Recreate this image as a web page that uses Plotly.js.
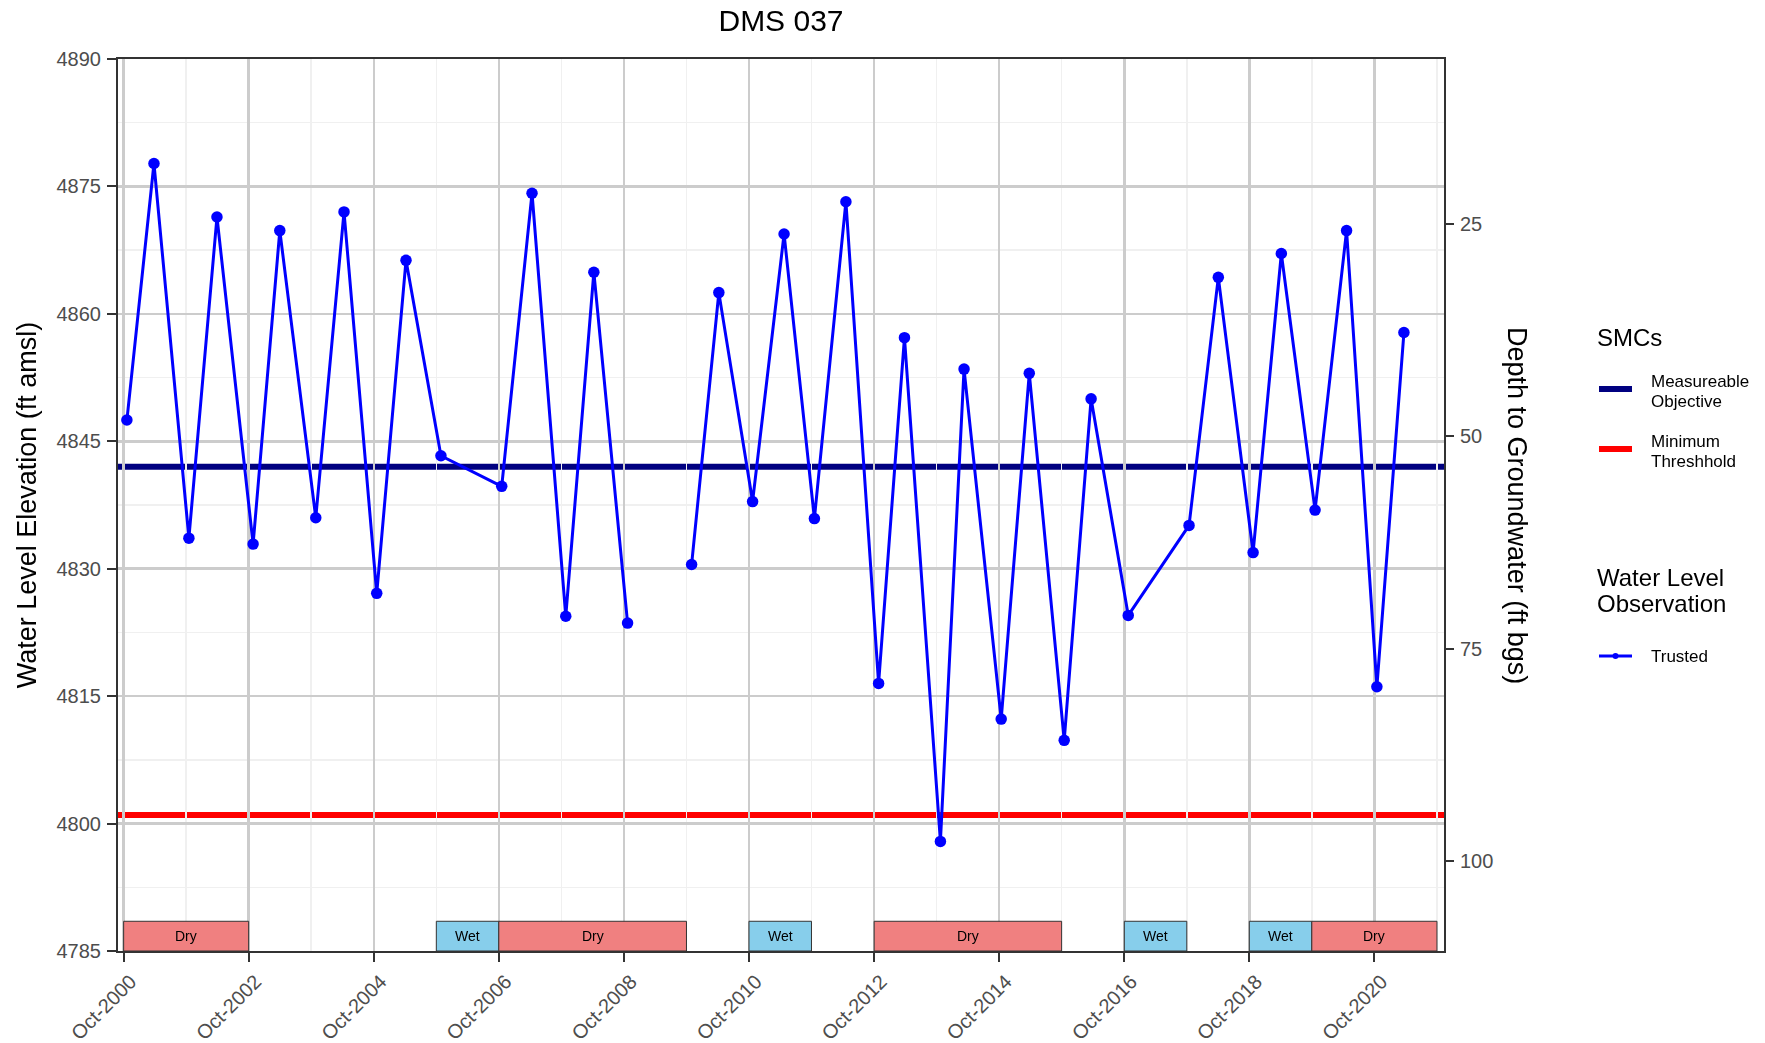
<!DOCTYPE html>
<html>
<head>
<meta charset="utf-8">
<script src="https://cdn.plot.ly/plotly-3.0.1.min.js"></script>
<style>
  html, body { margin: 0; padding: 0; background: #ffffff; }
  #chart { width: 1765px; height: 1043px; }
</style>
</head>
<body>
<div id="chart"></div>
<script>
// ---- Data ----
const obsDates = [
  '2000-10-20','2001-03-27','2001-10-17','2002-03-30','2002-10-27','2003-04-01',
  '2003-10-28','2004-04-10','2004-10-18','2005-04-07','2005-10-28','2006-10-18',
  '2007-04-13','2007-10-27','2008-04-08','2008-10-22','2009-04-01','2009-10-31',
  '2010-04-08','2010-10-22','2011-04-24','2011-10-18','2012-04-19','2012-10-27',
  '2013-03-27','2013-10-23','2014-03-10','2014-10-13','2015-03-26','2015-10-16',
  '2016-03-21','2016-10-24','2017-10-14','2018-04-03','2018-10-23','2019-04-06',
  '2019-10-20','2020-04-21','2020-10-15','2021-03-22'
];
const obsElev = [
  4847.5, 4877.7, 4833.6, 4871.4, 4832.9, 4869.8,
  4836.0, 4872.0, 4827.1, 4866.3, 4843.3, 4839.7,
  4874.2, 4824.4, 4864.9, 4823.6, null,   4830.5,
  4862.5, 4837.9, 4869.4, 4835.9, 4873.2, 4816.5,
  4857.2, 4797.9, 4853.5, 4812.3, 4853.0, 4809.8,
  4850.0, 4824.5, 4835.1, 4864.3, 4831.9, 4867.1,
  4836.9, 4869.8, 4816.1, 4857.8
];

const seasonStart = ['2000-10-01','2005-10-01','2006-10-01','2010-10-01','2012-10-01','2016-10-01','2018-10-01','2019-10-01'];
const seasonEnd   = ['2002-10-01','2006-10-01','2009-10-01','2011-10-01','2015-10-01','2017-10-01','2019-10-01','2021-10-01'];
const seasonType  = ['Dry','Wet','Dry','Wet','Dry','Wet','Wet','Dry'];

const measurableObjective = 4842;
const minimumThreshold = 4801;
const groundSurface = 4895.6;
const depthTicks = [25, 50, 75, 100];

// ---- Styles ----
const FONT = 'Liberation Sans, Arial, Helvetica, sans-serif';
const seasonColor = { Dry: '#F08080', Wet: '#87CEEB' };
const yMin = 4785, yMax = 4890;

// plot area in pixels (for paper-coordinate legend placement)
const M = { l: 118, r: 321, t: 59, b: 92 };
const W = 1765, H = 1043;
const PW = W - M.l - M.r, PH = H - M.t - M.b;
const px = x => (x - M.l) / PW;
const py = y => (H - M.b - y) / PH;

const obsDepth = obsElev.map(v => v === null ? null : groundSurface - v);

const traces = [
  {
    // carries the depth (right) axis; drawn invisibly on top of the elevation trace
    x: obsDates, y: obsDepth, yaxis: 'y2', type: 'scatter', mode: 'markers',
    marker: { size: 1, color: 'rgba(0,0,0,0)' }, opacity: 0,
    showlegend: false, hoverinfo: 'skip'
  },
  {
    x: obsDates, y: obsElev, type: 'scatter', mode: 'lines+markers',
    name: 'Trusted', connectgaps: false,
    line: { color: '#0000FF', width: 3 },
    marker: { color: '#0000FF', size: 11.5 },
    showlegend: false, hoverinfo: 'x+y'
  }
];

const shapes = [
  { type: 'line', xref: 'paper', yref: 'y', x0: 0, x1: 1, y0: measurableObjective, y1: measurableObjective,
    line: { color: '#000080', width: 6 }, layer: 'between' },
  { type: 'line', xref: 'paper', yref: 'y', x0: 0, x1: 1, y0: minimumThreshold, y1: minimumThreshold,
    line: { color: '#FF0000', width: 6 }, layer: 'between' }
];

const annotations = [];

seasonType.forEach((t, i) => {
  shapes.push({
    type: 'rect', xref: 'x', yref: 'y',
    x0: seasonStart[i], x1: seasonEnd[i], y0: yMin, y1: 4788.5,
    fillcolor: seasonColor[t], line: { color: '#333333', width: 1 }, layer: 'above'
  });
  const mid = new Date((Date.parse(seasonStart[i]) + Date.parse(seasonEnd[i])) / 2).toISOString().slice(0, 10);
  annotations.push({
    xref: 'x', yref: 'y', x: mid, y: (yMin + 4788.5) / 2, text: t, showarrow: false,
    font: { family: FONT, size: 14, color: '#000000' }, xanchor: 'center', yanchor: 'middle'
  });
});

// right axis title (reads top to bottom)
annotations.push({
  xref: 'paper', yref: 'paper', x: px(1517), y: 0.5, text: 'Depth to Groundwater (ft bgs)',
  textangle: 90, showarrow: false, xanchor: 'center', yanchor: 'middle',
  font: { family: FONT, size: 27, color: '#000000' }
});

// ---- Legend (drawn) ----
function legendText(text, x, y, size) {
  annotations.push({
    xref: 'paper', yref: 'paper', x: px(x), y: py(y), text: text, showarrow: false,
    xanchor: 'left', yanchor: 'middle', font: { family: FONT, size: size, color: '#000000' }
  });
}
function legendLine(color, y, width) {
  shapes.push({ type: 'line', xref: 'paper', yref: 'paper', x0: px(1599), x1: px(1632), y0: py(y), y1: py(y),
    line: { color: color, width: width } });
}
legendText('SMCs', 1595, 337, 24);
legendLine('#000080', 389, 6);
legendText('Measureable', 1649, 381, 17);
legendText('Objective', 1649, 401, 17);
legendLine('#FF0000', 449, 6);
legendText('Minimum', 1649, 442, 17);
legendText('Threshhold', 1649, 461, 17);
legendText('Water Level', 1595, 577, 24);
legendText('Observation', 1595, 603, 24);
legendLine('#0000FF', 656, 3);
shapes.push({ type: 'circle', xref: 'paper', yref: 'paper', xsizemode: 'pixel', ysizemode: 'pixel',
  xanchor: px(1615.5), yanchor: py(656), x0: -3, x1: 3, y0: -3, y1: 3,
  fillcolor: '#0000FF', line: { color: '#0000FF', width: 0 } });
legendText('Trusted', 1649, 656, 17);

const tickFont = { family: FONT, size: 20, color: '#4D4D4D' };

const layout = {
  width: W, height: H,
  margin: { l: M.l, r: M.r, t: M.t, b: M.b, pad: 0 },
  paper_bgcolor: '#FFFFFF', plot_bgcolor: '#FFFFFF',
  font: { family: FONT },
  showlegend: false,
  title: { text: 'DMS 037', x: 0.5, xref: 'paper', xanchor: 'center', y: 1 - 20 / H, yref: 'container', yanchor: 'middle',
    font: { family: FONT, size: 30, color: '#000000' } },
  xaxis: {
    type: 'date', range: ['2000-08-29', '2021-11-11'],
    tick0: '2000-10-01', dtick: 'M24', tickformat: '%b-%Y', tickangle: -45,
    ticks: 'outside', ticklen: 9, tickwidth: 2, tickcolor: '#333333',
    tickfont: tickFont, ticklabelshift: 7,
    showline: true, linecolor: '#333333', linewidth: 2, mirror: true,
    showgrid: true, gridcolor: '#CCCCCC', gridwidth: 2.5,
    minor: { tick0: '2000-10-01', dtick: 'M12', showgrid: true, gridcolor: '#F0F0F0', gridwidth: 1.5, ticks: '' },
    zeroline: false, automargin: false
  },
  yaxis: {
    range: [yMin, yMax], tick0: yMin, dtick: 15,
    ticks: 'outside', ticklen: 9, tickwidth: 2, tickcolor: '#333333',
    tickfont: tickFont, ticklabelstandoff: 2,
    showline: true, linecolor: '#333333', linewidth: 2, mirror: true,
    showgrid: true, gridcolor: '#CCCCCC', gridwidth: 2.5,
    minor: { tick0: yMin, dtick: 7.5, showgrid: true, gridcolor: '#F0F0F0', gridwidth: 1.5, ticks: '' },
    zeroline: false, automargin: false,
    title: { text: 'Water Level Elevation (ft amsl)', font: { family: FONT, size: 27, color: '#000000' }, standoff: 12 }
  },
  yaxis2: {
    overlaying: 'y', side: 'right', anchor: 'x',
    range: [groundSurface - yMin, groundSurface - yMax],
    tickmode: 'array', tickvals: depthTicks, ticktext: depthTicks.map(String),
    ticks: 'outside', ticklen: 9, tickwidth: 2, tickcolor: '#333333',
    tickfont: tickFont, ticklabelstandoff: 2,
    showline: false, showgrid: false, zeroline: false, automargin: false
  },
  shapes: shapes,
  annotations: annotations
};

Plotly.newPlot('chart', traces, layout, { displayModeBar: false, staticPlot: true });
</script>
</body>
</html>
